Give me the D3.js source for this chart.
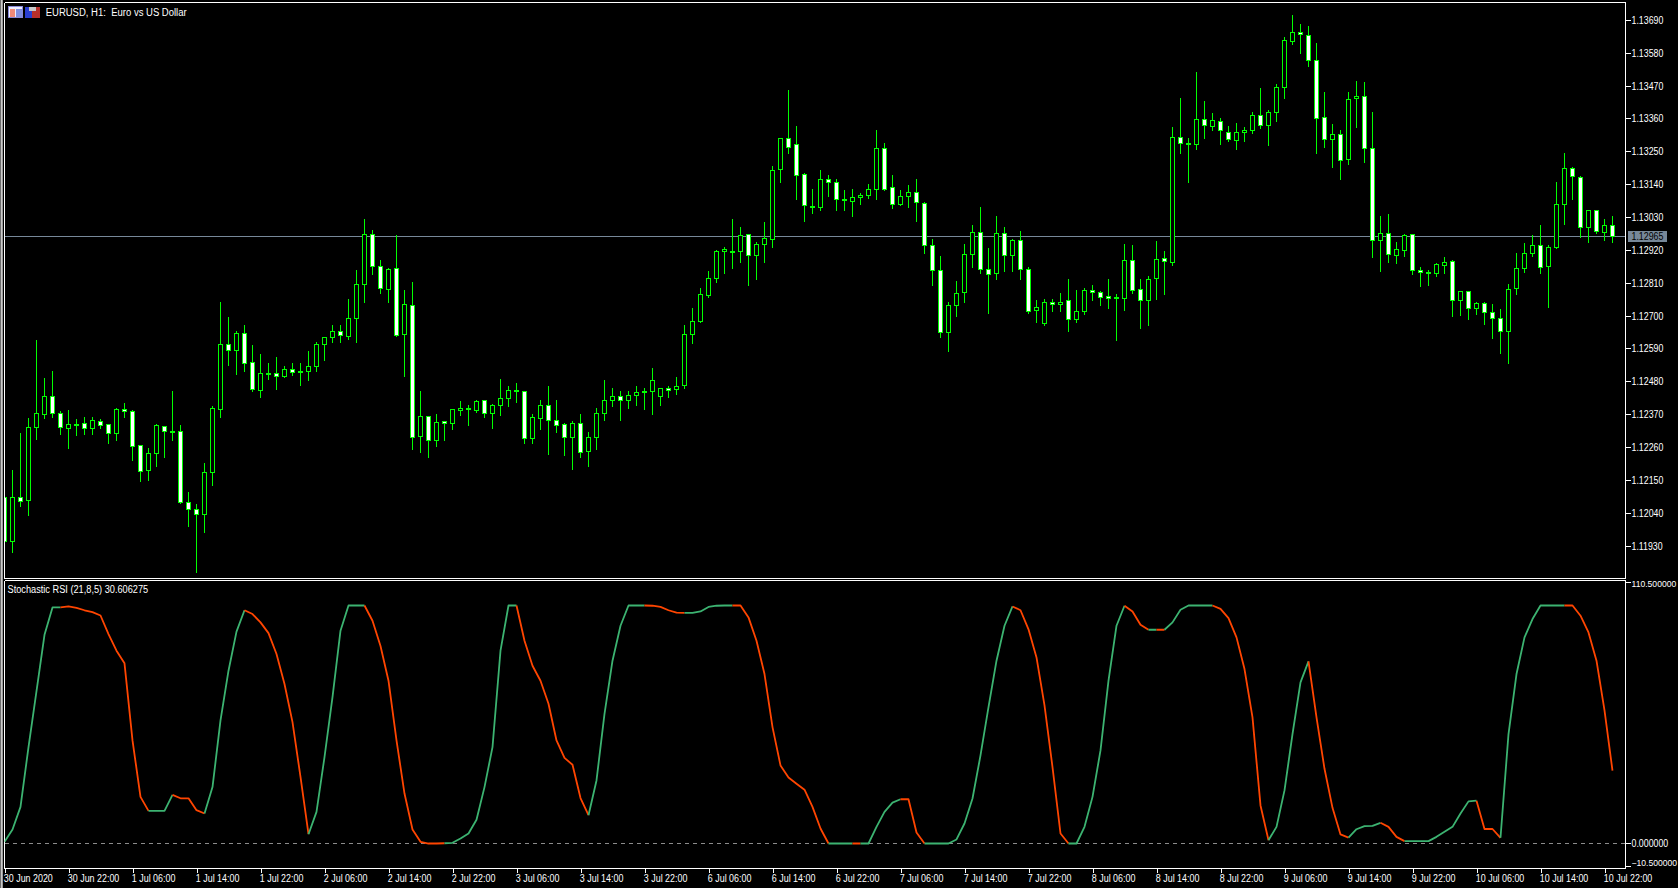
<!DOCTYPE html>
<html><head><meta charset="utf-8">
<script src="https://cdn.jsdelivr.net/npm/d3@7"></script>
<style>
html,body{margin:0;padding:0;background:#000;overflow:hidden}
svg{display:block}
text{font-family:"Liberation Sans",sans-serif;fill:#fff}
</style></head><body>
<script>
// Prices are written in points above 1.10000
const highs=[2093,2187,2310,2361,2620,2495,2519,2382,2387,2358,
2365,2365,2357,2337,2395,2409,2387,2271,2261,2341,
2331,2449,2338,2114,2071,2211,2399,2750,2697,2650,
2670,2606,2573,2546,2563,2533,2543,2543,2586,2613,
2629,2670,2673,2757,2857,3027,2988,2890,2863,2973,
2790,2817,2452,2364,2372,2351,2392,2416,2404,2419,
2418,2408,2492,2466,2479,2448,2372,2421,2469,2419,
2344,2349,2372,2315,2395,2486,2462,2449,2449,2466,
2459,2526,2462,2466,2496,2670,2730,2794,2854,2924,
2934,3028,3001,2973,2948,3018,3205,3299,3457,3339,
3182,3128,3189,3175,3159,3125,3128,3115,3142,3326,
3282,3175,3125,3139,3162,3085,2958,2901,2750,2820,
2944,3008,3068,2931,3038,3001,2961,2985,2867,2754,
2760,2757,2780,2827,2790,2797,2804,2787,2824,2777,
2944,2938,2827,2837,2954,2918,3336,3430,3299,3517,
3420,3380,3366,3339,3349,3336,3383,3466,3393,3477,
3637,3708,3678,3674,3617,3453,3343,3326,3453,3487,
3484,3383,3035,3042,2948,2975,2974,2867,2857,2880,
2900,2889,2787,2783,2750,2747,2743,2726,2810,2914,
2947,2974,3008,2941,3149,3249,3202,3172,3058,3054,
3028,3038];
const lows=[1944,1911,2067,2034,2291,2360,2362,2305,2261,2302,
2305,2308,2326,2275,2285,2362,2218,2148,2154,2201,
2231,2288,2075,2000,1846,1980,2137,2362,2536,2509,
2519,2449,2429,2492,2456,2496,2503,2472,2489,2516,
2553,2616,2616,2626,2616,2750,2841,2778,2747,2635,
2502,2258,2248,2231,2268,2285,2325,2369,2338,2379,
2365,2328,2369,2399,2414,2278,2275,2325,2241,2315,
2238,2191,2228,2198,2255,2352,2401,2355,2395,2405,
2389,2375,2405,2429,2442,2462,2610,2681,2764,2817,
2847,2861,2884,2807,2827,2884,2934,3149,3246,3092,
3021,3045,3058,3102,3055,3055,3038,3075,3098,3092,
3122,3062,3072,3065,3021,2914,2807,2630,2586,2703,
2750,2867,2844,2713,2827,2854,2851,2827,2713,2683,
2673,2717,2720,2650,2680,2707,2754,2737,2730,2620,
2723,2780,2660,2673,2760,2777,2871,3249,3149,3262,
3299,3326,3276,3289,3262,3289,3313,3331,3273,3353,
3433,3611,3581,3540,3249,3269,3199,3162,3209,3333,
3216,2898,2851,2884,2878,2901,2841,2801,2807,2834,
2844,2703,2706,2693,2710,2676,2629,2579,2546,2777,
2850,2904,2847,2733,2929,3011,3092,2965,2951,2978,
2955,2948];
const opens=[2093,1944,2093,2082,2326,2370,2431,2374,2323,2335,
2341,2323,2347,2337,2306,2387,2381,2267,2182,2239,
2331,2309,2314,2076,2053,2035,2175,2386,2605,2584,
2642,2545,2450,2507,2508,2497,2521,2515,2514,2530,
2604,2627,2649,2631,2691,2806,2973,2866,2789,2860,
2637,2736,2296,2364,2283,2347,2340,2383,2386,2385,
2418,2373,2400,2423,2447,2448,2289,2356,2401,2351,
2337,2293,2341,2246,2293,2373,2417,2431,2417,2433,
2443,2447,2430,2458,2453,2468,2637,2681,2770,2825,
2915,2912,2915,2973,2902,2939,2955,3190,3295,3275,
3174,3064,3063,3157,3147,3086,3083,3097,3103,3123,
3261,3131,3073,3099,3114,3077,2937,2853,2644,2735,
2778,2905,2980,2856,2842,2977,2902,2953,2856,2718,
2674,2746,2738,2752,2688,2714,2786,2779,2766,2758,
2758,2886,2789,2751,2825,2893,2879,3298,3276,3274,
3358,3334,3352,3315,3287,3314,3320,3371,3338,3382,
3466,3618,3650,3640,3556,3365,3292,3308,3225,3428,
3436,3261,2953,2977,2903,2920,2974,2853,2844,2841,
2869,2883,2752,2782,2725,2742,2712,2692,2648,2792,
2859,2908,2936,2865,2929,3074,3194,3164,2997,3054,
2980,3004];
const closes=[1944,2093,2078,2327,2374,2431,2373,2326,2337,2337,
2323,2351,2333,2306,2387,2380,2262,2179,2240,2334,
2313,2314,2075,2052,2035,2177,2391,2605,2584,2642,
2540,2453,2508,2509,2497,2521,2510,2510,2531,2605,
2629,2649,2635,2692,2806,2973,2866,2793,2856,2635,
2739,2294,2364,2283,2344,2340,2388,2391,2391,2414,
2373,2401,2424,2451,2451,2289,2361,2401,2351,2333,
2293,2341,2243,2294,2374,2418,2431,2417,2434,2444,
2446,2485,2458,2451,2465,2639,2682,2773,2826,2916,
2923,2916,2970,2903,2940,2960,3188,3295,3263,3170,
3069,3067,3157,3146,3089,3091,3097,3105,3124,3261,
3125,3073,3101,3114,3079,2937,2852,2644,2736,2776,
2906,2980,2855,2838,2977,2902,2953,2856,2714,2729,
2746,2738,2746,2688,2716,2786,2778,2761,2758,2762,
2886,2785,2751,2823,2890,2882,3298,3277,3279,3358,
3337,3355,3320,3290,3315,3322,3372,3338,3382,3466,
3623,3650,3643,3556,3362,3292,3308,3221,3425,3436,
3261,2953,2977,2907,2923,2970,2853,2846,2847,2873,
2879,2752,2782,2725,2742,2712,2692,2648,2789,2859,
2909,2936,2863,2930,3074,3194,3168,2997,3054,2984,
3004,2965];
const stochRsi=[0.7,5.9,15.4,40.5,64,87.7,99.2,99.2,99.6,99,
98,97.2,95.8,88,81,75.7,43.3,19.6,13.7,13.7,
13.7,20.4,19,19,14,12.6,23.7,51.7,72.6,89,
98,96.4,92.9,88.4,79.6,67,51,28,3.9,13.3,
36.3,61.5,89.4,100,100,100,93.6,83,68.4,43.3,
21,5.9,0.7,0,0,0.1,0.3,2.1,4.2,10,
23.7,40.5,81,100,100,85.2,74.7,68.4,58.7,43.3,
36,33.1,19.1,11.9,26.5,54.5,76.8,91.5,100,100,
100,99.9,99.4,98,97,96.9,96.9,97.5,99.4,99.9,
100,100,100,95,85.2,71.2,48.9,32.8,27.7,25.1,
22.6,15.4,6.3,0,0,0,0,0,0,7,
13.3,17.2,18.6,18.6,4.6,0,0,0,0,1.7,
8.4,18.9,37,57.3,76.8,91.5,99.6,98,90,78.2,
58,32.1,4.2,0,0,7,19.6,39.1,68.4,91.5,
99.9,97.5,91.9,89.8,89.8,89.8,92.9,98.2,100,100,
100,100,98.6,94.7,86.6,73.3,53,16,1.4,7,
22.3,46,67.7,76.5,53,31.4,15,3.8,2.5,6,
7.3,7.4,8.7,7,2.8,1,1,1,1,2.8,
4.9,7,12.6,17.7,18,6.1,6.1,2.4,46,71.2,
86.6,94.3,100,100,100,100,100,95.7,88.7,76.8,
55.9,30.6];
// bars (first, last) at which the indicator line is drawn in its falling colour
const fallingRuns=[[8,18],[22,25],[31,38],[46,55],[65,73],[81,85],[92,103],[107,107],[113,115],[127,133],[141,143],[145,145],[152,158],[164,168],[173,175],[185,187],[196,201]];
const priceTicks=[1.1369,1.1358,1.1347,1.1336,1.1325,1.1314,1.1303,1.1292,1.1281,1.127,1.1259,1.1248,1.1237,1.1226,1.1215,1.1204,1.1193];
const lastPrice=1.12965;
const stochTicks=[110.5,0,-10.5];
const timeLabels=["30 Jun 2020","30 Jun 22:00","1 Jul 06:00","1 Jul 14:00","1 Jul 22:00","2 Jul 06:00","2 Jul 14:00","2 Jul 22:00","3 Jul 06:00","3 Jul 14:00","3 Jul 22:00","6 Jul 06:00","6 Jul 14:00","6 Jul 22:00","7 Jul 06:00","7 Jul 14:00","7 Jul 22:00","8 Jul 06:00","8 Jul 14:00","8 Jul 22:00","9 Jul 06:00","9 Jul 14:00","9 Jul 22:00","10 Jul 06:00","10 Jul 14:00","10 Jul 22:00"];
const barsPerLabel=8;
const titleText="EURUSD, H1:  Euro vs US Dollar";
const stochTitle="Stochastic RSI (21,8,5) 30.606275";

const W=1678,H=888, plotLeft=4.5, plotRight=1625.5, plotTop=2.5, mainBottom=578.5, subTop=580.5, subBottom=868.5;
const UP="#00ff00", LINE_UP="#3cb371", LINE_DOWN="#ff4500", GRID="#778899";
const px=v=>1.1+v/1e5;
const snap=v=>Math.round(v-0.5)+0.5;

const svg=d3.select("body").append("svg").attr("width",W).attr("height",H);
svg.append("rect").attr("width",W).attr("height",H).attr("fill","#000");
// window edge
svg.append("rect").attr("x",0).attr("y",0).attr("width",1).attr("height",H).attr("fill","#6e6e6e");
svg.append("rect").attr("x",1).attr("y",0).attr("width",1).attr("height",H).attr("fill","#c8c8c8");
svg.append("rect").attr("x",2).attr("y",0).attr("width",1).attr("height",H).attr("fill","#9c9c9c");

const x=d3.scaleLinear().domain([0,opens.length-1]).range([4.5,1612.5]);
const y=d3.scaleLinear().domain([1.1193,1.1369]).range([546,20.3]);
const ys=d3.scaleLinear().domain([-10.5,110.5]).range([subBottom,subTop]);

const defs=svg.append("defs");
defs.append("clipPath").attr("id","clipMain").append("rect").attr("x",plotLeft).attr("y",plotTop).attr("width",plotRight-plotLeft).attr("height",mainBottom-plotTop);
defs.append("clipPath").attr("id","clipSub").append("rect").attr("x",plotLeft).attr("y",subTop).attr("width",plotRight-plotLeft).attr("height",subBottom-subTop);

const g=svg.append("g").attr("shape-rendering","crispEdges");
// last-price line
g.append("line").attr("x1",plotLeft).attr("x2",plotRight).attr("y1",snap(y(lastPrice))).attr("y2",snap(y(lastPrice))).attr("stroke",GRID);

// candles
const bars=d3.range(opens.length);
const cg=g.append("g").attr("clip-path","url(#clipMain)");
cg.selectAll("line.w").data(bars).join("line").attr("class","w")
 .attr("x1",i=>x(i)).attr("x2",i=>x(i)).attr("y1",i=>snap(y(px(highs[i])))).attr("y2",i=>snap(y(px(lows[i])))+1)
 .attr("stroke",UP);
cg.selectAll("rect.b").data(bars).join("rect").attr("class","b")
 .attr("x",i=>x(i)-2).attr("width",4)
 .attr("y",i=>snap(y(px(Math.max(opens[i],closes[i])))))
 .attr("height",i=>Math.max(1,snap(y(px(Math.min(opens[i],closes[i]))))-snap(y(px(Math.max(opens[i],closes[i]))))))
 .attr("fill",i=>closes[i]<opens[i]?"#fff":"#000").attr("stroke",UP);

// frame
const frame=[[plotLeft,plotTop,plotRight,plotTop],[plotLeft,plotTop,plotLeft,mainBottom],[plotLeft,mainBottom,plotRight,mainBottom],[plotLeft,subTop,plotRight,subTop],[plotLeft,subTop,plotLeft,subBottom],[plotLeft,subBottom,plotRight,subBottom],[plotRight,plotTop,plotRight,mainBottom],[plotRight,subTop,plotRight,subBottom]];
g.selectAll("line.f").data(frame).join("line").attr("class","f").attr("x1",d=>d[0]).attr("y1",d=>d[1]).attr("x2",d=>d[2]).attr("y2",d=>d[3]).attr("stroke","#fff");

// zero level
svg.append("line").attr("x1",plotLeft).attr("x2",plotRight).attr("y1",snap(ys(0))).attr("y2",snap(ys(0))).attr("stroke","#8c8c8c").attr("stroke-dasharray","4 4").attr("shape-rendering","crispEdges");

// indicator line
const isFalling=i=>fallingRuns.some(r=>i>=r[0]&&i<=r[1]);
const lineGen=d3.line().x(i=>x(i)).y(i=>ys(stochRsi[i]));
const lg=svg.append("g").attr("clip-path","url(#clipSub)").attr("fill","none").attr("stroke-width",1.8).attr("stroke-linejoin","round");
let runStart=0;
for(let i=1;i<=stochRsi.length;i++){
  if(i===stochRsi.length||isFalling(i)!==isFalling(runStart+1)){
    lg.append("path").attr("d",lineGen(d3.range(runStart,i))).attr("stroke",isFalling(runStart+1)?LINE_DOWN:LINE_UP);
    runStart=i-1;
  }
}

// condense a label set so it reads like the narrow terminal font
function narrow(sel,f){sel.each(function(){const n=this.getComputedTextLength();d3.select(this).attr("textLength",n*f).attr("lengthAdjust","spacingAndGlyphs");});}

// price axis
const ax=svg.append("g").attr("transform",`translate(${plotRight},0)`).call(
  d3.axisRight(y).tickValues(priceTicks).tickFormat(d3.format(".5f")).tickSize(5).tickPadding(1));
ax.select(".domain").remove();
ax.selectAll(".tick").attr("transform",d=>`translate(0,${snap(y(d))})`);
ax.selectAll("line").attr("stroke","#fff").attr("shape-rendering","crispEdges");
ax.selectAll("text").attr("font-size",10).attr("font-family","Liberation Sans").attr("fill","#fff");
narrow(ax.selectAll("text"),0.88);

// last price tag
const tagY=snap(y(lastPrice));
svg.append("rect").attr("x",1628).attr("y",tagY-5.5).attr("width",39).attr("height",11).attr("fill",GRID);
const tagT=svg.append("text").attr("x",1631.5).attr("y",tagY+3.5).attr("font-size",10).style("fill","#000").text(d3.format(".5f")(lastPrice));
narrow(tagT,0.88);

// indicator axis
const axs=svg.append("g").attr("transform",`translate(${plotRight},0)`).call(
  d3.axisRight(ys).tickValues(stochTicks).tickFormat(d3.format(".6f")).tickSize(5).tickPadding(1));
axs.select(".domain").remove();
const tickShift=d=>d===110.5?2:d===-10.5?-2:0;
axs.selectAll(".tick").attr("transform",d=>`translate(0,${snap(ys(d))+tickShift(d)})`);
axs.selectAll("line").attr("stroke","#fff").attr("shape-rendering","crispEdges");
axs.selectAll("text").attr("font-family","Liberation Sans").attr("fill","#fff")
  .attr("font-size",d=>d===0?10:8.6)
  .attr("transform",d=>`translate(0,${d===110.5?2:d===-10.5?-3:0})`);
narrow(axs.selectAll("text").filter(d=>d===0),0.88);

// time axis
const timeIdx=timeLabels.map((_,k)=>k*barsPerLabel);
const axt=svg.append("g").attr("transform",`translate(0,${subBottom})`).call(
  d3.axisBottom(x).tickValues(timeIdx).tickFormat(i=>timeLabels[i/barsPerLabel]).tickSize(4).tickPadding(2));
axt.select(".domain").remove();
axt.selectAll("line").attr("stroke","#fff").attr("shape-rendering","crispEdges");
axt.selectAll("text").attr("font-size",10).attr("font-family","Liberation Sans").attr("fill","#fff").attr("text-anchor","start").attr("dx",-1.2);
narrow(axt.selectAll("text"),0.89);

// titles
const t1=svg.append("text").attr("x",45.7).attr("y",16).attr("font-size",10).style("white-space","pre").text(titleText);
narrow(t1,141/t1.node().getComputedTextLength());
const t2=svg.append("text").attr("x",7.5).attr("y",593).attr("font-size",10).text(stochTitle);
narrow(t2,140.7/t2.node().getComputedTextLength());

// window icons
const ic=svg.append("g").attr("shape-rendering","crispEdges");
ic.append("rect").attr("x",8.5).attr("y",6.5).attr("width",14).attr("height",11).attr("fill","#eef").attr("stroke","#8a8ad8");
ic.append("rect").attr("x",10).attr("y",9).attr("width",5).attr("height",8).attr("fill","#f08a78");
ic.append("rect").attr("x",16).attr("y",9).attr("width",6).attr("height",8).attr("fill","#7f8fe0");
ic.append("rect").attr("x",25).attr("y",7).attr("width",7).attr("height",11).attr("fill","#2a3fd0");
ic.append("rect").attr("x",32).attr("y",7).attr("width",8).attr("height",11).attr("fill","#b8302a");
ic.append("rect").attr("x",29).attr("y",7).attr("width",7).attr("height",4).attr("fill","#c8c8c8");
</script>
</body></html>
